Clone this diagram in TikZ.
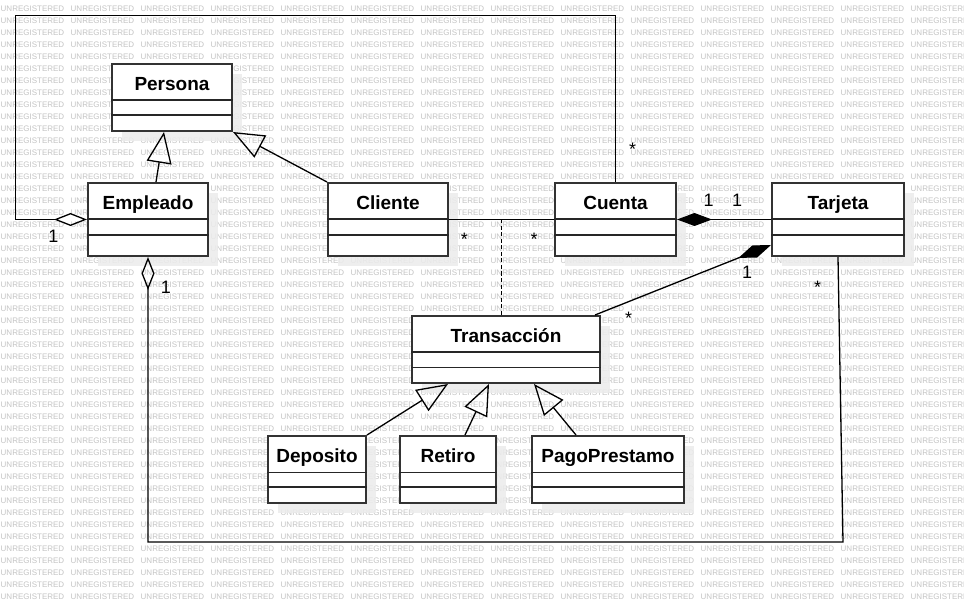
\documentclass[tikz,border=0pt]{standalone}
\usepackage{fontspec}
\setmainfont{Liberation Sans}
\usetikzlibrary{arrows.meta,calc,shadows}

\definecolor{wmgris}{RGB}{196,196,196}
\definecolor{borde}{RGB}{51,51,51}
\definecolor{sombra}{RGB}{236,236,236}

\tikzset{
  marca/.style={text=wmgris, font=\fontsize{8}{8}\selectfont, inner sep=0pt, anchor=base west},
  clase/.style={draw=borde, line width=2pt, fill=white, anchor=north west,
    inner ysep=0pt, text height=26.3pt, text depth=40.7pt,
    font=\fontsize{19}{19}\selectfont\bfseries,
    drop shadow={shadow xshift=10pt, shadow yshift=-10pt, fill=sombra, opacity=0.85}},
  alta/.style={text depth=46.7pt},
  division/.style={line width=1.3pt, black!85},
  linea/.style={line width=1.3pt, black},
  hereda/.style={linea, -{Triangle[open, length=31pt, width=25pt]}},
  agrega/.style={linea, -{Diamond[open, length=33pt, width=13pt]}},
  compone/.style={linea, -{Diamond[length=35pt, width=13pt]}},
  mult/.style={font=\fontsize{18}{18}\selectfont, inner sep=0pt, anchor=base}
}

\begin{document}
\begin{tikzpicture}[x=1pt, y=-1pt]
  \useasboundingbox[fill=white] (0,0) rectangle (964,604);
  % marca de agua del fondo
  \foreach \j in {0,...,49}
    \foreach \i in {0,...,13}
      \node[marca] (w-\i-\j) at (0.5+70*\i, 11.7+12*\j) {UNREGISTERED};

  % clases
  \node[clase, minimum width=120pt] (persona) at (111,63) {Persona};
  \node[clase, alta, minimum width=120pt] (empleado) at (87,182) {Empleado};
  \node[clase, alta, minimum width=120pt] (cliente) at (327,182) {Cliente};
  \node[clase, alta, minimum width=121pt] (cuenta) at (554,182) {Cuenta};
  \node[clase, alta, minimum width=132pt] (tarjeta) at (771,182) {Tarjeta};
  \node[clase, minimum width=188pt] (transaccion) at (411,315) {Transacción};
  \node[clase, minimum width=98pt] (deposito) at (267,435) {Deposito};
  \node[clase, minimum width=96pt] (retiro) at (399,435) {Retiro};
  \node[clase, minimum width=152pt] (pago) at (531,435) {PagoPrestamo};

  % compartimentos de atributos y operaciones
  \foreach \n/\a/\b in {persona/37/52, empleado/37/53, cliente/37/53, cuenta/37/53,
                        tarjeta/37/53, transaccion/37/52.5, deposito/37.5/52,
                        retiro/37.5/52, pago/37.5/52}
    \draw[division] ([yshift=-\a pt]\n.north west) -- ([yshift=-\a pt]\n.north east)
                    ([yshift=-\b pt]\n.north west) -- ([yshift=-\b pt]\n.north east);

  % herencia
  \draw[hereda] ([xshift=8pt]empleado.north) -- ([xshift=-8pt]persona.south);
  \draw[hereda] (cliente.north west) -- (persona.south east);
  \draw[hereda] (deposito.north east) -- ([xshift=-58pt]transaccion.south);
  \draw[hereda] ([xshift=17pt]retiro.north) -- ([xshift=-17pt]transaccion.south);
  \draw[hereda] ([xshift=-32pt]pago.north) -- ([xshift=28pt]transaccion.south);

  % asociaciones
  \draw[agrega] (cuenta.north) |- (15.5,15.5) |- (empleado.west);
  \draw[agrega] (tarjeta.south) -- (843,542) -| (empleado.south);
  \draw[linea] (cliente.east) -- coordinate (asoc) (cuenta.west);
  \draw[linea, dash pattern=on 4pt off 2.5pt] (asoc) -- (asoc |- transaccion.north);
  \draw[compone] (tarjeta.west) -- (cuenta.east);
  \draw[compone] ([xshift=-6pt]transaccion.north east) -- ([yshift=-25.5pt]tarjeta.west);

  % multiplicidades
  \node[mult] (m1) at (53.5,242.7) {1};
  \node[mult] (m2) at (632.7,155.3) {*};
  \node[mult] (m3) at (166,294) {1};
  \node[mult] (m4) at (817.7,293) {*};
  \node[mult] (m5) at (464.3,246) {*};
  \node[mult] (m6) at (534,246) {*};
  \node[mult] (m7) at (708.7,206.7) {1};
  \node[mult] (m8) at (737,206.7) {1};
  \node[mult] (m9) at (747,278.3) {1};
  \node[mult] (m10) at (628.7,324.3) {*};
\end{tikzpicture}
\end{document}
